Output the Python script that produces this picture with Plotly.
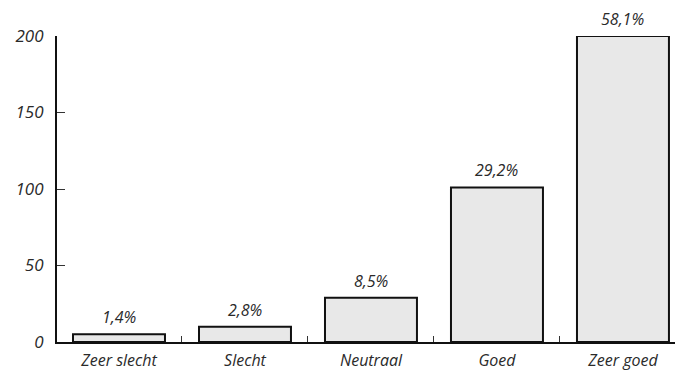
import plotly.graph_objects as go

# Ratings and their counts
categories = ["Zeer slecht", "Slecht", "Neutraal", "Goed", "Zeer goed"]
counts = [5, 10, 29, 101, 200]
percent_labels = ["1,4%", "2,8%", "8,5%", "29,2%", "58,1%"]
y_ticks = [0, 50, 100, 150, 200]

FONT = "Open Sans"
INK = "#2a2a2a"

fig = go.Figure()
fig.add_trace(go.Bar(
    x=categories,
    y=counts,
    width=0.73,
    marker=dict(color="#e8e8e8", line=dict(color="#111111", width=2)),
    cliponaxis=False,
    hoverinfo="skip",
))

for cat, val, lab in zip(categories, counts, percent_labels):
    fig.add_annotation(
        x=cat, y=val, text=lab, showarrow=False,
        yanchor="bottom", yshift=4,
        font=dict(family=FONT, size=16, color=INK, style="italic"),
    )

fig.update_layout(
    width=683, height=372,
    margin=dict(l=57, r=8, t=36, b=30, autoexpand=False),
    paper_bgcolor="white",
    plot_bgcolor="white",
    showlegend=False,
    font=dict(family=FONT, size=16, color=INK, style="italic"),
)

fig.update_xaxes(
    type="category",
    range=[-0.492, 4.413],
    automargin=False,
    showline=True, linecolor="#111111", linewidth=2,
    ticks="inside", tickson="boundaries", ticklen=6, tickwidth=1.2, tickcolor="#333333",
    showgrid=False, zeroline=False,
    ticklabelstandoff=3,
    tickfont=dict(family=FONT, size=16, color=INK, style="italic"),
)

fig.update_yaxes(
    range=[0, 200],
    automargin=False,
    tickvals=y_ticks,
    ticktext=[str(v) for v in y_ticks],
    showline=True, linecolor="#111111", linewidth=2,
    ticks="inside", ticklen=8, tickwidth=1.2, tickcolor="#333333",
    showgrid=False, zeroline=False,
    ticklabelstandoff=8,
    tickfont=dict(family=FONT, size=17, color=INK, style="italic"),
)

fig.write_html("out.html")
